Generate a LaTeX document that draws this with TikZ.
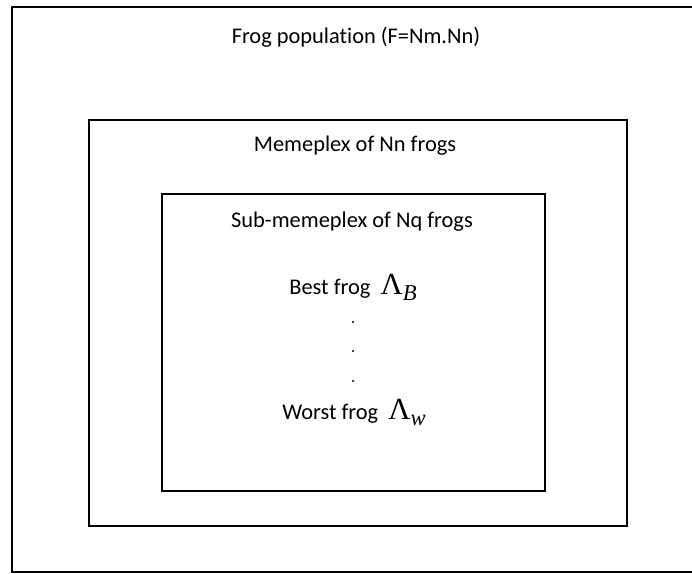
\documentclass[tikz,border=0pt]{standalone}
\usepackage{fontspec}
\setmainfont[Ligatures=NoCommon]{Carlito}
\newfontfamily\symfont{Liberation Serif}
\newcommand{\mysym}[1]{{\fontsize{23}{25}\selectfont\symfont Λ}{\fontsize{17}{19}\selectfont\symfont\itshape\raisebox{-4.5pt}{#1}}}
\begin{document}
\begin{tikzpicture}[x=0.75pt,y=-0.75pt,
  box/.style={line width=1.5pt, draw=black},
  lbl/.style={font=\fontsize{16.8}{19}\selectfont, inner sep=0pt, anchor=center},
  mlbl/.style={font=\fontsize{16.8}{19}\selectfont, inner sep=0pt, anchor=base},
  dotmark/.style={circle, fill=black, inner sep=0pt, minimum size=1.6pt}]
\useasboundingbox (0,0) rectangle (692,574);
\clip (0,0) rectangle (692,574);
\draw[box] (12,7) rectangle (700,572);
\draw[box] (89,120) rectangle (627,526);
\draw[box] (162,194) rectangle (545,491);
\node[lbl] (pop) at (356,37) {Frog population (F=Nm.Nn)};
\node[lbl] (meme) at (355,146) {Memeplex of Nn frogs};
\node[lbl] (sub) at (352,222) {Sub-memeplex of Nq frogs};
\node[mlbl] (best) at (353,294) {Best frog\ \ \mysym{B}};
\node[dotmark] (d1) at (353,322) {};
\node[dotmark] (d2) at (353,351) {};
\node[dotmark] (d3) at (353,381) {};
\node[mlbl] (worst) at (354,419) {Worst frog\ \ \mysym{w}};
\end{tikzpicture}
\end{document}
